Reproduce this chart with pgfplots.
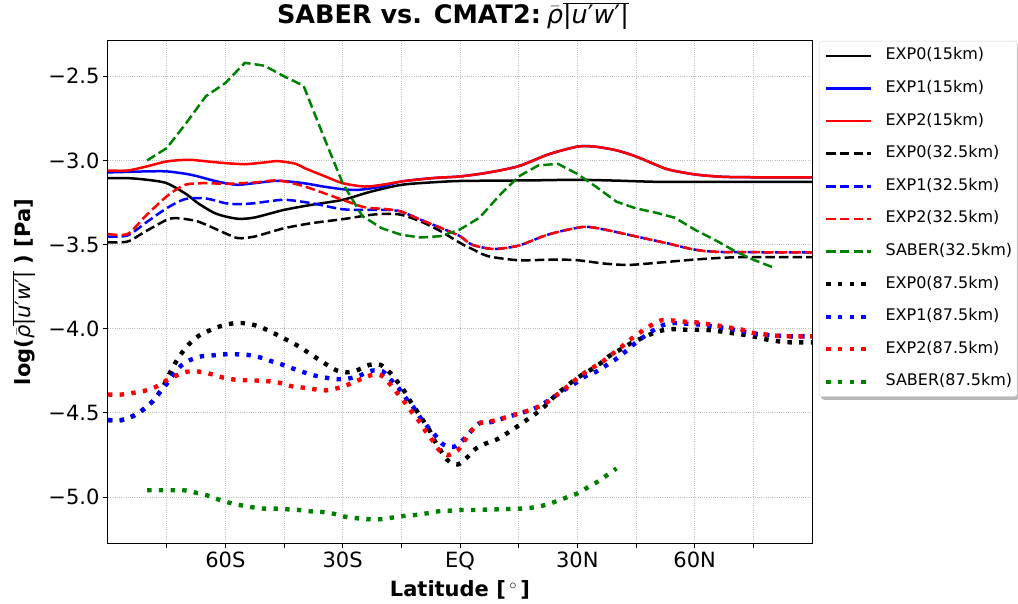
\documentclass[border=0pt]{standalone}
\usepackage{fontspec}
\setmainfont{DejaVu Sans}
\usepackage{pgfplots}
\pgfplotsset{compat=1.18}
\usetikzlibrary{backgrounds}
\definecolor{mgreen}{rgb}{0,0.5,0}
\newcommand{\qty}{$\bar{\mbox{\normalfont\itshape ρ}}\overline{\mbox{\normalfont|\itshape u\upshape′\itshape w\upshape′|}}$}
\pgfplotsset{
  solidl/.style={line width=2.5pt, smooth, tension=0.45},
  dashl/.style={line width=2.5pt, dash pattern=on 9.5pt off 4.1pt, smooth, tension=0.45},
  dotl/.style={line width=4.4pt, dash pattern=on 4.4pt off 7.3pt, smooth, tension=0.45,
    legend image code/.code={\draw[##1, line width=4.4pt] (0pt,0pt) -- (45pt,0pt);}},
}
\begin{document}
\begin{tikzpicture}
\useasboundingbox (-108pt,-59.7pt) rectangle (910pt,543.3pt);
\begin{axis}[
  scale only axis, width=704pt, height=502.6pt,
  xmin=-90, xmax=90, ymin=-5.275, ymax=-2.2885,
  xtick={-75,-60,-45,-30,-15,0,15,30,45,60,75},
  xticklabels={,60S,,30S,,EQ,,30N,,60N,},
  ytick={-5,-4.5,-4,-3.5,-3,-2.5},
  yticklabels={−5.0,−4.5,−4.0,−3.5,−3.0,−2.5},
  tick align=outside, tick pos=left,
  major tick length=5pt,
  tick style={black, line width=1pt},
  axis line style={line width=1pt},
  grid=major,
  major grid style={gray!50, line width=0.8pt, dash pattern=on 0.8pt off 1.4pt},
  ticklabel style={font=\fontsize{21}{25}\selectfont},
  title={SABER vs. CMAT2:\kern-3pt\ \qty},
  title style={at={(axis description cs:0.49,1.0219)}, anchor=base, font=\fontsize{25.5}{30}\selectfont\bfseries},
  xlabel={Latitude [$\,^{\circ}\,$]},
  xlabel style={at={(axis description cs:0.5,-0.1068)}, anchor=base, font=\fontsize{21}{25}\selectfont\bfseries},
  ylabel={log(\qty\ ) [Pa]},
  ylabel style={at={(axis description cs:-0.1094,0.5)}, anchor=base, font=\fontsize{21}{25}\selectfont\bfseries},
  legend style={name=leg, at={(axis description cs:1.0099,0.9994)}, anchor=north west,
    draw=gray!35, rounded corners=3pt, fill=white,
    font=\fontsize{16}{19}\selectfont, inner xsep=5pt, inner ysep=6.7pt,
    row sep=16.6pt, nodes={inner sep=0pt, text height=12pt, text depth=4pt},
    cells={anchor=west},
    /tikz/every odd column/.append style={column sep=12pt}},
  legend image code/.code={\draw[#1, line width=2.5pt] (0pt,0pt) -- (45pt,0pt);},
]
% EXP0 15km
\addplot[black, solidl] coordinates {
(-90,-3.105) (-85,-3.105) (-80,-3.115) (-75,-3.135) (-70,-3.20) (-67,-3.254) (-63,-3.31) (-60,-3.333)
(-56.5,-3.347) (-52.5,-3.339) (-45,-3.294) (-38,-3.264) (-30,-3.234) (-22.7,-3.185) (-15,-3.145)
(-7,-3.13) (0,-3.122) (10,-3.12) (20,-3.118) (30,-3.115) (40,-3.12) (50,-3.127) (60,-3.128) (75,-3.128) (90,-3.128)};
\addlegendentry{EXP0(15km)}
% EXP1 15km
\addplot[blue, solidl] coordinates {
(-90,-3.071) (-85,-3.068) (-80,-3.065) (-75,-3.065) (-70,-3.08) (-67,-3.095) (-63,-3.12) (-60,-3.135)
(-56.7,-3.145) (-52.5,-3.135) (-46.5,-3.121) (-40,-3.135) (-35,-3.155) (-30,-3.171) (-26,-3.175)
(-20,-3.155) (-15,-3.125) (-7,-3.105) (0,-3.095) (7,-3.073) (15,-3.034) (22.6,-2.964) (30,-2.918)
(34.5,-2.918) (40,-2.94) (44.7,-2.974) (50,-3.025) (53.3,-3.054) (60,-3.083) (67,-3.097) (75,-3.1) (90,-3.1)};
\addlegendentry{EXP1(15km)}
% EXP2 15km
\addplot[red, solidl] coordinates {
(-90,-3.06) (-85,-3.06) (-80,-3.035) (-75,-3.006) (-69.5,-2.996) (-65,-3.005) (-60,-3.016) (-55,-3.022)
(-50,-3.012) (-46.5,-3.004) (-42,-3.02) (-39.7,-3.046) (-35,-3.09) (-30,-3.135) (-24.4,-3.155)
(-20,-3.145) (-15,-3.125) (-7,-3.105) (0,-3.095) (7,-3.073) (15,-3.034) (22.6,-2.964) (30,-2.918)
(34.5,-2.918) (40,-2.94) (44.7,-2.974) (50,-3.025) (53.3,-3.054) (60,-3.083) (67,-3.097) (75,-3.1) (90,-3.1)};
\addlegendentry{EXP2(15km)}
% EXP0 32.5km
\addplot[black, dashl] coordinates {
(-90,-3.486) (-85,-3.482) (-80.5,-3.423) (-75,-3.353) (-72.4,-3.343) (-67,-3.363) (-60,-3.433)
(-56.7,-3.462) (-52.5,-3.452) (-45,-3.403) (-38,-3.373) (-30,-3.349) (-22.7,-3.323) (-18.5,-3.317)
(-15,-3.323) (-10,-3.363) (-5,-3.42) (0,-3.49) (3,-3.525) (7.2,-3.569) (15,-3.593) (24,-3.589)
(30,-3.593) (37,-3.613) (43,-3.621) (50,-3.609) (60,-3.589) (71,-3.575) (90,-3.575)};
\addlegendentry{EXP0(32.5km)}
% EXP1 32.5km
\addplot[blue, dashl] coordinates {
(-90,-3.452) (-85,-3.446) (-80.5,-3.373) (-75,-3.284) (-70.3,-3.23) (-65,-3.226) (-60,-3.254)
(-56.7,-3.26) (-52.5,-3.254) (-45,-3.234) (-38,-3.254) (-30,-3.29) (-22.7,-3.294) (-18.5,-3.294)
(-15,-3.304) (-10,-3.353) (-5,-3.40) (0,-3.45) (3,-3.5) (8.5,-3.526) (15,-3.506) (22.6,-3.44)
(31.5,-3.395) (37,-3.411) (44.7,-3.45) (53.3,-3.494) (60,-3.53) (67,-3.544) (90,-3.546)};
\addlegendentry{EXP1(32.5km)}
% EXP2 32.5km
\addplot[red, dashl] coordinates {
(-90,-3.437) (-85,-3.437) (-80.5,-3.333) (-75,-3.214) (-70.3,-3.145) (-65,-3.135) (-60,-3.139)
(-52.5,-3.131) (-46.5,-3.119) (-39.7,-3.155) (-30,-3.234) (-24.4,-3.278) (-18.5,-3.29)
(-15,-3.304) (-10,-3.353) (-5,-3.40) (0,-3.45) (3,-3.5) (8.5,-3.526) (15,-3.506) (22.6,-3.44)
(31.5,-3.395) (37,-3.411) (44.7,-3.45) (53.3,-3.494) (60,-3.53) (67,-3.544) (90,-3.546)};
\addlegendentry{EXP2(32.5km)}
% SABER 32.5km
\addplot[mgreen, line width=2.5pt, dash pattern=on 9.5pt off 4.1pt] coordinates {
(-80,-3.0) (-75,-2.927) (-70,-2.778) (-65,-2.619) (-60,-2.54) (-55,-2.42) (-50,-2.437) (-45,-2.5)
(-40,-2.556) (-35,-2.85) (-30,-3.135) (-25,-3.33) (-20,-3.403) (-15,-3.442) (-10,-3.458) (-5,-3.45)
(0,-3.41) (5,-3.34) (10,-3.21) (15,-3.095) (20,-3.03) (25,-3.02) (30,-3.08) (35,-3.16) (40,-3.245)
(45,-3.285) (50,-3.31) (55,-3.341) (60,-3.411) (65,-3.47) (70,-3.535) (75,-3.59) (80,-3.635)};
\addlegendentry{SABER(32.5km)}
% EXP0 87.5km
\addplot[black, dotl] coordinates {
(-90,-4.543) (-86.5,-4.543) (-83.7,-4.52) (-81.2,-4.484) (-78.8,-4.437) (-77,-4.385) (-75.4,-4.322)
(-74.2,-4.263) (-72.7,-4.2) (-71,-4.14) (-69,-4.085) (-66.8,-4.042) (-64.2,-4.012) (-61.4,-3.986)
(-58.6,-3.97) (-55.6,-3.966) (-52.6,-3.978) (-49.8,-4.002) (-47.1,-4.032) (-44.4,-4.065) (-41.8,-4.097)
(-39.3,-4.134) (-36.7,-4.174) (-34.4,-4.209) (-31.6,-4.247) (-28.8,-4.259) (-25.9,-4.243) (-23.2,-4.215)
(-20.3,-4.215) (-18,-4.259) (-16.1,-4.312) (-14.2,-4.372) (-12.7,-4.431) (-11,-4.49) (-9.3,-4.549)
(-7.9,-4.599) (-6.4,-4.668) (-3.2,-4.781) (-0.5,-4.806) (2,-4.761) (4,-4.713) (6.6,-4.682) (9.4,-4.658)
(11.9,-4.623) (14.5,-4.583) (17,-4.543) (19.4,-4.504) (21.7,-4.46) (24,-4.405) (26.2,-4.362)
(28.5,-4.318) (30.9,-4.279) (33.5,-4.243) (36,-4.204) (38.3,-4.16) (40.9,-4.125) (43.5,-4.089)
(46,-4.061) (48.8,-4.032) (51.7,-4.01) (54.7,-4.002) (57.7,-4.006) (60.7,-4.006) (63.6,-4.008)
(66.6,-4.016) (69.6,-4.026) (72.6,-4.036) (75.6,-4.049) (78.6,-4.065) (81.5,-4.075) (84.5,-4.081) (90,-4.081)};
\addlegendentry{EXP0(87.5km)}
% EXP1 87.5km
\addplot[blue, dotl] coordinates {
(-90,-4.543) (-86.5,-4.543) (-83.7,-4.52) (-81.2,-4.484) (-78.8,-4.437) (-77,-4.385) (-75,-4.328)
(-73.3,-4.273) (-71.3,-4.219) (-68.8,-4.184) (-66.1,-4.164) (-63.1,-4.158) (-60.1,-4.152) (-57.1,-4.152)
(-54.1,-4.156) (-51.2,-4.17) (-48.4,-4.192) (-45.5,-4.213) (-42.7,-4.237) (-39.9,-4.259) (-37,-4.279)
(-34,-4.292) (-31.1,-4.3) (-28.1,-4.294) (-25.3,-4.275) (-22.5,-4.249) (-19.8,-4.253) (-17.6,-4.306)
(-15.5,-4.358) (-13.7,-4.417) (-11.8,-4.47) (-10.1,-4.53) (-8.4,-4.579) (-6.3,-4.634) (-4.3,-4.688)
(-1.6,-4.702) (0.9,-4.658) (2.8,-4.609) (5.1,-4.559) (7.9,-4.555) (10.7,-4.535) (13.6,-4.514)
(16.6,-4.494) (19.4,-4.47) (21.9,-4.437) (24.3,-4.401) (26.8,-4.362) (29.6,-4.322) (32.1,-4.282)
(34.7,-4.257) (37.3,-4.219) (39.9,-4.18) (42.2,-4.138) (44.5,-4.091) (46.9,-4.049) (49.4,-4.01)
(52,-3.978) (54.8,-3.966) (57.8,-3.97) (60.7,-3.974) (63.7,-3.982) (66.7,-3.992) (69.7,-4.004)
(72.7,-4.018) (75.7,-4.03) (78.6,-4.038) (81.6,-4.042) (84.6,-4.045) (90,-4.045)};
\addlegendentry{EXP1(87.5km)}
% EXP2 87.5km
\addplot[red, dotl] coordinates {
(-90,-4.391) (-86.5,-4.391) (-83.5,-4.381) (-80.5,-4.368) (-77.8,-4.346) (-75.3,-4.31) (-72.6,-4.279)
(-69.7,-4.255) (-66.7,-4.255) (-63.7,-4.269) (-60.8,-4.289) (-57.8,-4.302) (-54.9,-4.306) (-51.9,-4.308)
(-49,-4.312) (-46,-4.322) (-43,-4.342) (-40.1,-4.35) (-37.1,-4.36) (-34.1,-4.366) (-31.2,-4.352)
(-28.4,-4.33) (-25.6,-4.302) (-22.9,-4.277) (-20.2,-4.277) (-18,-4.326) (-16.1,-4.381) (-14.2,-4.435)
(-12.5,-4.49) (-10.6,-4.545) (-8.9,-4.605) (-7,-4.664) (-5.5,-4.717) (-3.2,-4.751) (-0.6,-4.723)
(1.1,-4.668) (2.8,-4.609) (4.9,-4.563) (7.8,-4.551) (10.7,-4.533) (13.6,-4.514) (16.4,-4.494)
(19.3,-4.472) (22,-4.441) (24.3,-4.401) (26.7,-4.358) (29.1,-4.312) (31.5,-4.267) (33.8,-4.233)
(36.2,-4.2) (38.6,-4.156) (41.1,-4.111) (43.5,-4.065) (45.8,-4.026) (48.4,-3.986) (51.3,-3.951)
(54.3,-3.951) (57.3,-3.958) (60.2,-3.962) (63.2,-3.972) (66.2,-3.982) (69.2,-3.994) (72.2,-4.006)
(75.2,-4.026) (78.1,-4.034) (81.1,-4.042) (84.1,-4.045) (90,-4.045)};
\addlegendentry{EXP2(87.5km)}
% SABER 87.5km
\addplot[mgreen, dotl] coordinates {
(-80,-4.96) (-76.4,-4.96) (-73.5,-4.96) (-70.5,-4.96) (-67.6,-4.974) (-64.7,-4.99) (-61.8,-5.014)
(-59,-5.034) (-56,-5.049) (-53.1,-5.061) (-50.1,-5.069) (-47.1,-5.069) (-44.1,-5.073) (-41.2,-5.077)
(-38.2,-5.085) (-35.2,-5.089) (-32.2,-5.1) (-29.4,-5.117) (-26.4,-5.126) (-23.4,-5.132) (-20.4,-5.132)
(-17.5,-5.123) (-14.5,-5.113) (-11.5,-5.107) (-8.5,-5.097) (-5.6,-5.085) (-2.6,-5.081) (0.4,-5.077)
(3.6,-5.077) (6.6,-5.075) (9.5,-5.073) (12.5,-5.071) (15.5,-5.069) (18.5,-5.063) (21.5,-5.049)
(24.3,-5.028) (27.1,-5.004) (29.9,-4.98) (32.5,-4.945) (35.2,-4.909) (37.6,-4.87) (40,-4.83)};
\addlegendentry{SABER(87.5km)}
\end{axis}
\begin{pgfonlayer}{background}
\fill[gray!55, rounded corners=3pt] ([xshift=2pt,yshift=-3pt]leg.south west) rectangle ([xshift=2pt,yshift=-3pt]leg.north east);
\end{pgfonlayer}
\end{tikzpicture}
\end{document}
